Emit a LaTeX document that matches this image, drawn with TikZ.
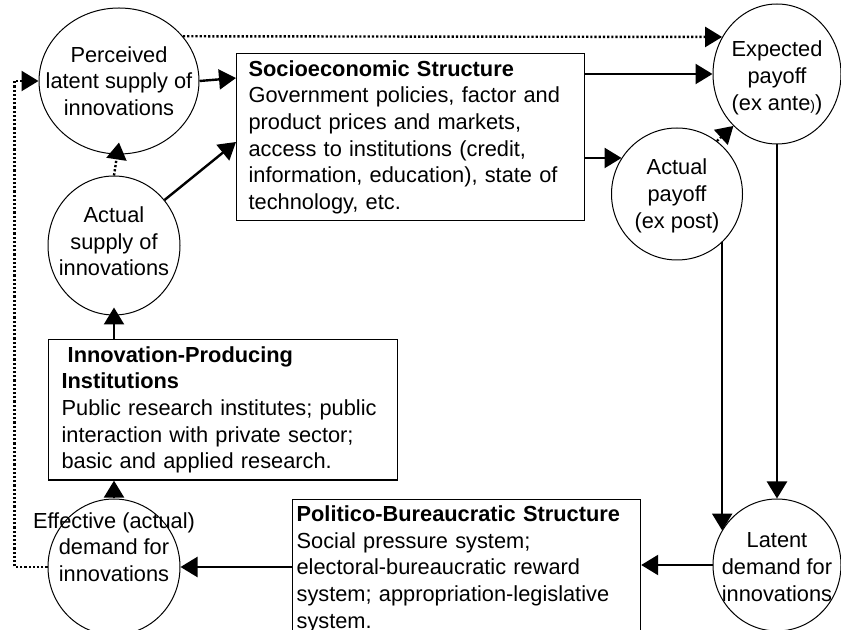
\documentclass[tikz,border=0pt]{standalone}
\usepackage{fontspec}
\setmainfont{Liberation Sans}
\usetikzlibrary{shapes.geometric,arrows.meta}
\newcommand{\diagfont}{\fontsize{10.9pt}{13.35pt}\selectfont}

\begin{document}
\begin{tikzpicture}[x=0.5pt,y=-0.5pt,
  bubble/.style 2 args={draw, ellipse, line width=0.5pt, inner sep=0pt, minimum width=#1, minimum height=#2},
  btext/.style={font=\diagfont, align=center, inner sep=0pt},
  panel/.style={draw, line width=0.6pt, anchor=north west, align=left, font=\diagfont},
  arr/.style={line width=1.2pt, -{Triangle[length=8.5pt,width=10pt]}},
  dotarr/.style={arr, line width=1.2pt, dash pattern=on 1.1pt off 1pt}]
\clip (0,0) rectangle (841,630);
\node [bubble={80pt}{73pt}, label={[btext]center:{Perceived\\latent supply of\\innovations}}] (perc) at (119,81) {};
\node [bubble={66pt}{69.5pt}, label={[btext,yshift=2pt]center:{Actual\\supply of\\innovations}}] (asup) at (114,245.5) {};
\node [bubble={64pt}{70pt}, label={[btext,yshift=-2pt]center:{Expected\\payoff\\(ex ante{\fontsize{7pt}{8pt}\selectfont)})}}] (expa) at (777,74) {};
\node [bubble={65.5pt}{66pt}, label={[btext,yshift=-1pt]center:{Actual\\payoff\\(ex post)}}] (apay) at (677,194) {};
\node [bubble={64pt}{66pt}, label={[btext,yshift=-1pt]center:{Latent\\demand for\\innovations}}] (lat) at (777,565) {};
\node [bubble={66pt}{68pt}, label={[btext,yshift=10pt]center:{Effective (actual)\\demand for\\innovations}}] (eff) at (114,567) {};
\node [panel, text width=162pt, inner xsep=6pt, minimum height=81.5pt] (socio) at (236,53)
  {\textbf{Socioeconomic Structure}\\Government policies, factor and\\product prices and markets,\\access to institutions (credit,\\information, education), state of\\technology, etc.};
\node [panel, text width=161.5pt, inner xsep=6.5pt, minimum height=66.5pt] (innov) at (48,339)
  {\textbf{\hspace*{0.28em}Innovation-Producing}\\\textbf{Institutions}\\Public research institutes; public\\interaction with private sector;\\basic and applied research.};
\node [panel, text width=170pt, inner xsep=2pt, inner ysep=3pt] (pol) at (292,499)
  {\textbf{Politico-Bureaucratic Structure}\\Social pressure system;\\electoral-bureaucratic reward\\system; appropriation-legislative\\system.};
\draw [dotarr] (perc.35) -- (expa.146);
\draw [arr] (perc.east) -- ([yshift=-12.5pt]socio.north west);
\draw [arr] (asup.42) -- ([yshift=-44.5pt]socio.north west);
\draw [dotarr] (asup.north) -- ([yshift=6pt]perc.south);
\draw [arr] (socio.east |- expa.west) -- (expa.west);
\draw [arr] (socio.east |- apay.147) -- (apay.147);
\draw [dotarr] (apay.53) -- (expa.230);
\draw [arr] (apay.313) -- (apay.313 |- lat.148);
\draw [arr] (expa.south) -- (lat.north);
\draw [arr] (lat.west) -- (lat.west -| pol.east);
\draw [arr] (pol.west |- eff.east) -- (eff.east);
\draw [arr] (eff.north) -- (eff.north |- innov.south);
\draw [arr] (innov.north -| asup.south) -- ([yshift=4pt]asup.south);
\draw [dotarr] (eff.west) -- ++(-33,0) |- (perc.west);
\end{tikzpicture}
\end{document}
